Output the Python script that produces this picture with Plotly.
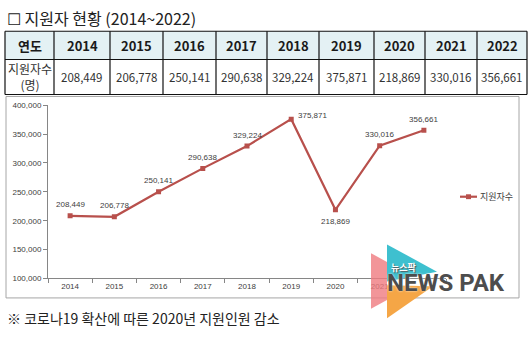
import plotly.graph_objects as go

years = ["2014", "2015", "2016", "2017", "2018", "2019", "2020", "2021", "2022"]
applicants = [208449, 206778, 250141, 290638, 329224, 375871, 218869, 330016, 356661]
label_pos = ["top", "top", "top", "top", "top", "right", "bottom", "top", "top"]
y_ticks = [100000, 150000, 200000, 250000, 300000, 350000, 400000]
series_name = "지원자수"
title_text = "☐ 지원자 현황 (2014~2022)"
note_text = "※ 코로나19 확산에 따른 2020년 지원인원 감소"
table_head = "연도"
table_row_head = "지원자수<br>(명)"

W, H = 528, 337
KR = "Noto Sans CJK KR, Noto Sans, sans-serif"
LINE = "#b8504c"


def px(x):
    return x / W


def py(y):
    return 1 - y / H


fig = go.Figure()
fig.add_trace(go.Scatter(
    x=years, y=applicants, mode="lines+markers", name=series_name,
    line=dict(color=LINE, width=2.2),
    marker=dict(symbol="square", size=5, color=LINE),
    showlegend=False, hoverinfo="skip",
))

annotations = []
shapes = []


def ann(x, y, text, size, color="#222", family=KR, xanchor="center", yanchor="middle", **kw):
    d = dict(x=x, y=y, xref="paper", yref="paper", text=text, showarrow=False,
             xanchor=xanchor, yanchor=yanchor, font=dict(family=family, size=size, color=color))
    d.update(kw)
    return d


# data labels
for i, (v, pos) in enumerate(zip(applicants, label_pos)):
    a = dict(x=i, y=v, xref="x", yref="y", text=f"{v:,}", showarrow=False,
             xanchor="center", yanchor="middle",
             font=dict(family="Liberation Sans, Arial", size=8, color="#404040"))
    if pos == "top":
        a.update(yshift=11)
    elif pos == "bottom":
        a.update(yshift=-12)
    else:
        a.update(xanchor="left", xshift=5, yshift=4)
    annotations.append(a)

# chart box
shapes.append(dict(type="rect", xref="paper", yref="paper", x0=px(6), x1=px(519), y0=py(302), y1=py(95),
                   line=dict(color="#a6a6a6", width=1), fillcolor="rgba(0,0,0,0)", layer="below"))

# table
cols = [5, 54, 110, 163, 216, 267, 319, 374, 425, 477, 527]
rows = [28, 57, 93]
shapes.append(dict(type="rect", xref="paper", yref="paper", x0=px(cols[0]), x1=px(cols[-1]),
                   y0=py(rows[1]), y1=py(rows[0]), fillcolor="#e4f1f4", line=dict(width=0), layer="below"))
for r in rows:
    shapes.append(dict(type="line", xref="paper", yref="paper", x0=px(cols[0]), x1=px(cols[-1]),
                       y0=py(r), y1=py(r), line=dict(color="#111", width=1.2)))
for c in cols:
    shapes.append(dict(type="line", xref="paper", yref="paper", x0=px(c), x1=px(c),
                       y0=py(rows[0]), y1=py(rows[-1]), line=dict(color="#111", width=1.2)))
hdr_y = (rows[0] + rows[1]) / 2
row_y = (rows[1] + rows[2]) / 2
annotations.append(ann(px((cols[0] + cols[1]) / 2), py(hdr_y), f"<b>{table_head}</b>", 13, "#1a1a1a"))
annotations.append(ann(px((cols[0] + cols[1]) / 2), py(row_y), table_row_head, 12, "#333"))
for i, (yr, v) in enumerate(zip(years, applicants)):
    cx = px((cols[i + 1] + cols[i + 2]) / 2)
    annotations.append(ann(cx, py(hdr_y), f"<b>{yr}</b>", 13, "#1a1a1a"))
    annotations.append(ann(cx, py(row_y), f"{v:,}", 11.5, "#333"))

# title & footnote
annotations.append(ann(px(5), py(14), title_text, 16, "#222", xanchor="left"))
annotations.append(ann(px(5), py(323), note_text, 14, "#222", xanchor="left"))

# manual legend
shapes.append(dict(type="line", xref="paper", yref="paper", x0=px(460), x1=px(477), y0=py(198), y1=py(198),
                   line=dict(color=LINE, width=2.2)))
shapes.append(dict(type="rect", xref="paper", yref="paper", x0=px(466), x1=px(471), y0=py(200.5), y1=py(195.5),
                   line=dict(width=0), fillcolor=LINE))
annotations.append(ann(px(478), py(198), series_name, 9, "#404040", xanchor="left"))


# watermark logo
def path(pts):
    return "M " + " L ".join(f"{px(x)},{py(y)}" for x, y in pts) + " Z"


shapes.append(dict(type="rect", xref="paper", yref="paper", x0=px(400), x1=px(446), y0=py(300), y1=py(287),
                   fillcolor="white", line=dict(width=0), layer="above"))
shapes.append(dict(type="path", xref="paper", yref="paper", path=path([(371, 256), (387, 265), (387, 304), (371, 313)]),
                   fillcolor="#ef7b80", line=dict(width=0), opacity=0.8, layer="above"))
shapes.append(dict(type="path", xref="paper", yref="paper", path=path([(387, 247), (437, 275), (387, 285)]),
                   fillcolor="#3ec0cf", line=dict(width=0), layer="above"))
shapes.append(dict(type="path", xref="paper", yref="paper", path=path([(387, 289), (433, 290), (387, 323)]),
                   fillcolor="#f5a646", line=dict(width=0), layer="above"))
nf = ann(px(385), py(287), "<b>NEWS PAK</b>", 24, "#4d4d4d", family="Roboto, Liberation Sans", xanchor="left")
nf["font"]["shadow"] = "0 0 2px white"
annotations.append(nf)
kf = ann(px(389), py(271), "<b>뉴스팍</b>", 9, "white", xanchor="left")
kf["font"]["shadow"] = "1px 1px 1px #555"
annotations.append(kf)

fig.update_layout(
    width=W, height=H, margin=dict(l=0, r=0, t=0, b=0),
    paper_bgcolor="white", plot_bgcolor="white",
    xaxis=dict(type="category", categoryorder="array", categoryarray=years, range=[-0.5, 8.5],
               domain=[px(48), px(446)], showline=True, linecolor="#868686", linewidth=1,
               ticks="outside", tickson="boundaries", ticklen=4, tickcolor="#868686",
               tickfont=dict(family="Liberation Sans, Arial", size=8, color="#404040"),
               showgrid=False, zeroline=False, fixedrange=True),
    yaxis=dict(range=[100000, 400000], domain=[py(282), py(104)], tickvals=y_ticks, tickformat=",",
               showline=True, linecolor="#868686", linewidth=1, ticks="outside", ticklen=4,
               tickcolor="#868686", tickfont=dict(family="Liberation Sans, Arial", size=8, color="#404040"),
               showgrid=False, zeroline=False, fixedrange=True),
    shapes=shapes, annotations=annotations,
)

fig.write_html("out.html")
